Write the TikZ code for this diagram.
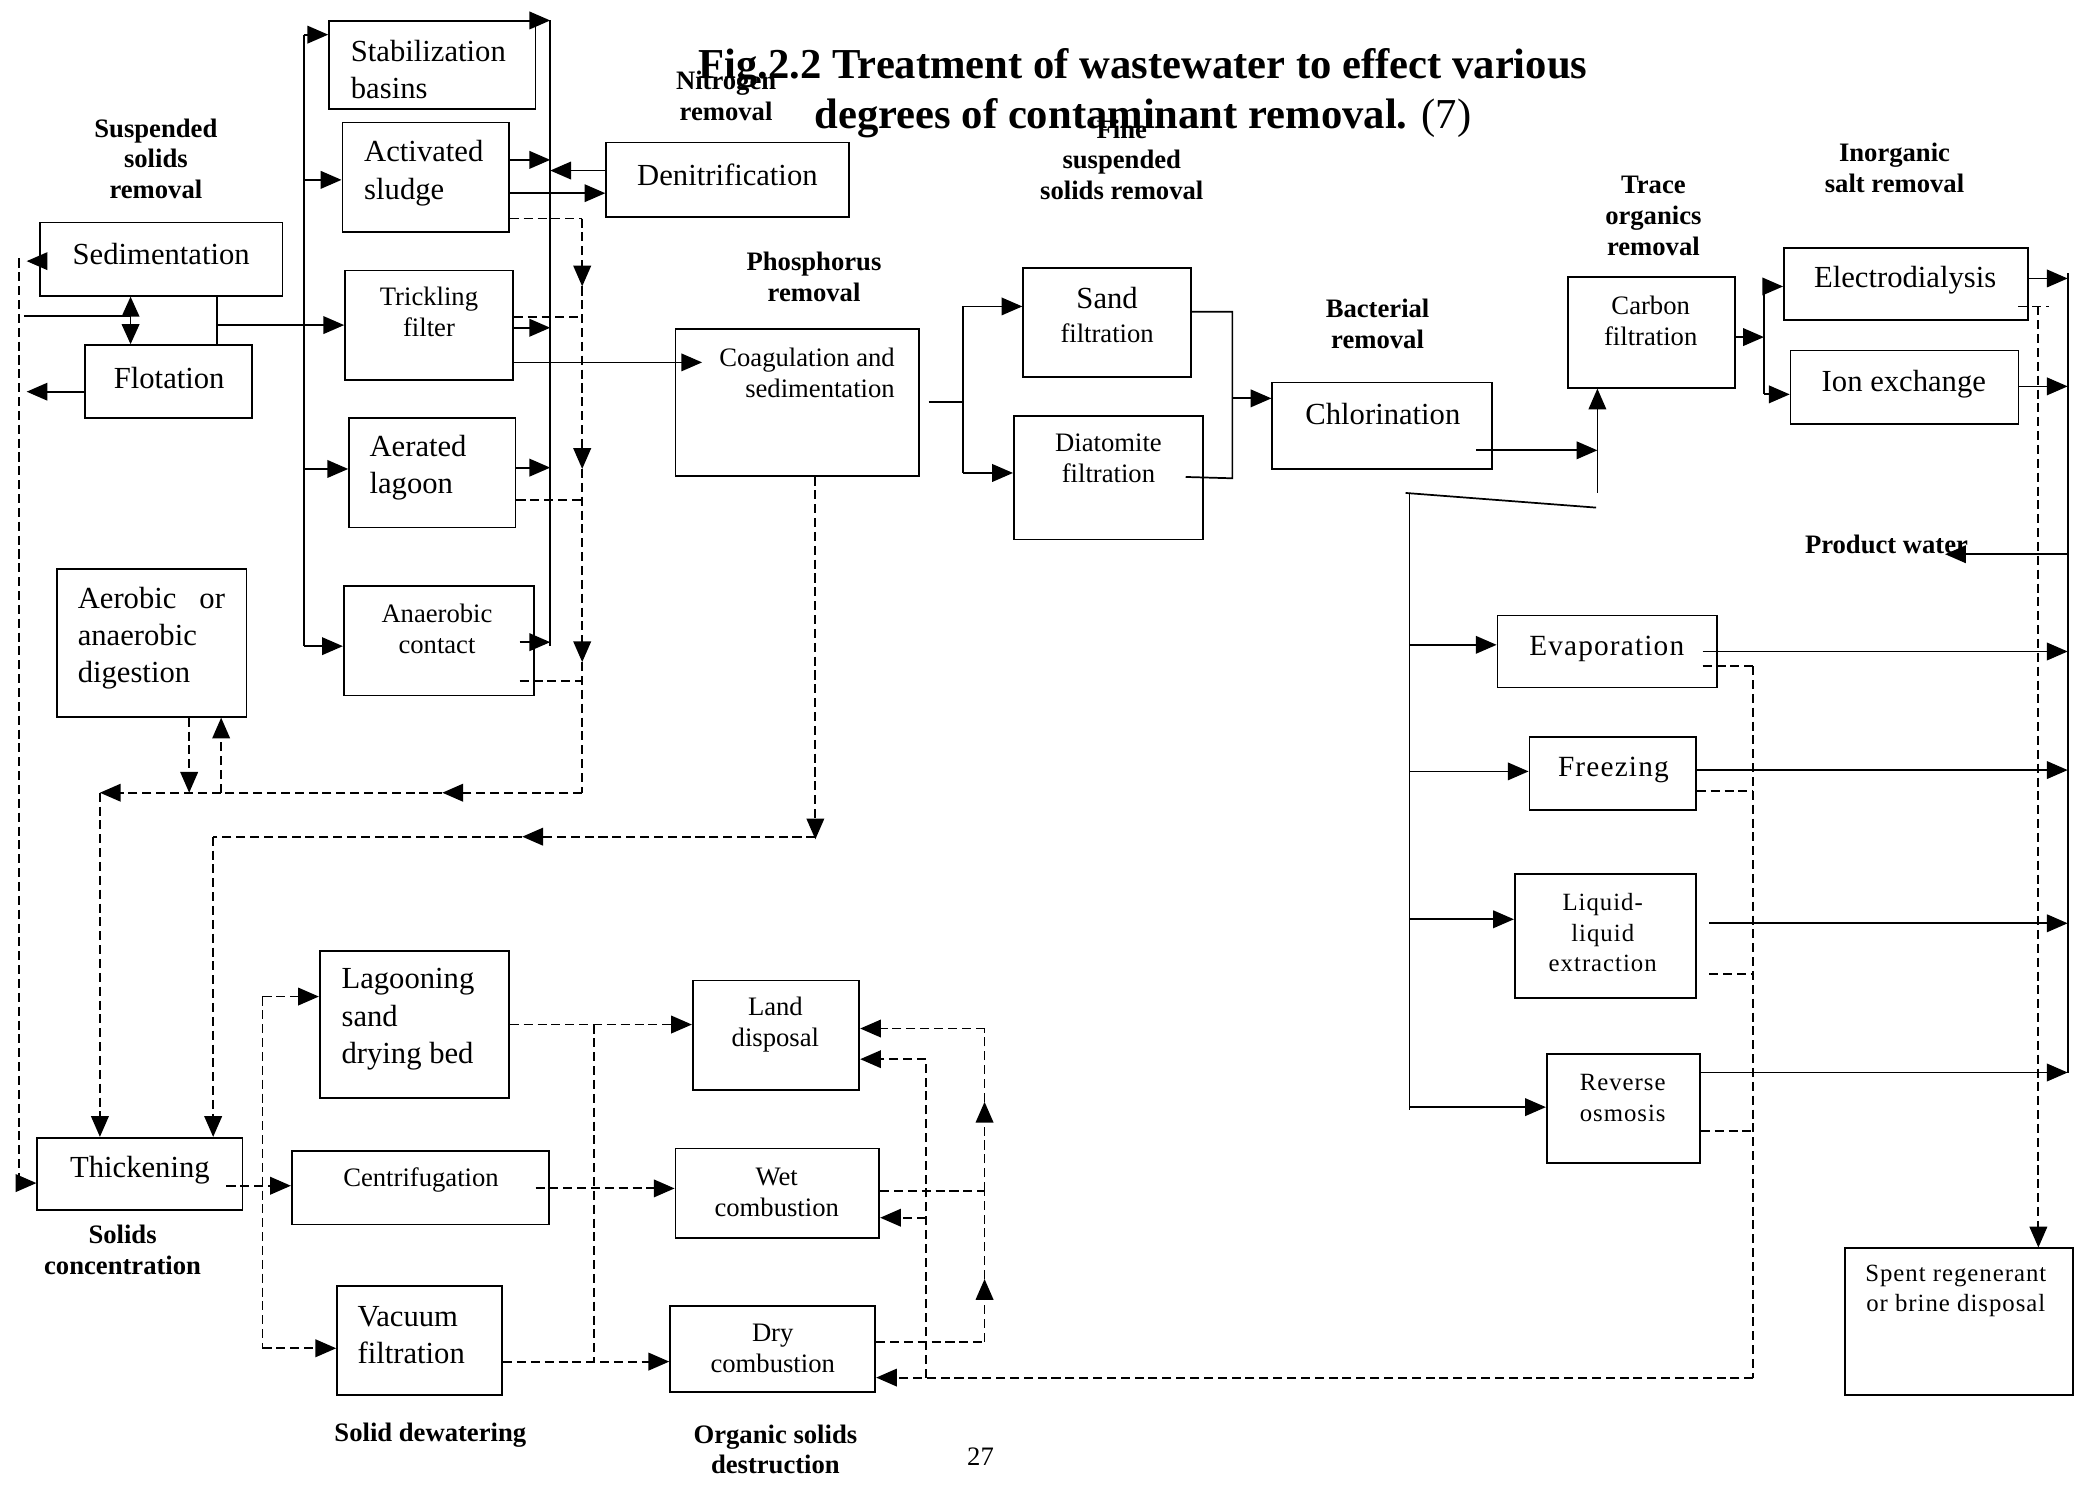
\documentclass[tikz,border=0pt]{standalone}
\usepackage{fontspec}
\setmainfont{Liberation Serif}
\newfontfamily\wsf[LetterSpace=4]{Liberation Serif}
\usetikzlibrary{arrows.meta,fit}
\begin{document}
\begin{tikzpicture}[x=0.5pt,y=-0.5pt,
  box/.style={draw,line width=0.65pt,inner sep=0pt},
  solid line/.style={line width=0.65pt},
  flow/.style={line width=0.65pt,-{Triangle[length=7.8pt,width=6.6pt]}},
  dline/.style={line width=0.7pt,dash pattern=on 3.4pt off 1.8pt},
  dflow/.style={dline,-{Triangle[length=7.8pt,width=6.6pt]}},
  dbl/.style={line width=0.65pt,{Triangle[length=7.5pt,width=6.6pt]}-{Triangle[length=7.5pt,width=6.6pt]}},
  bigt/.style={font=\fontsize{11.5}{14}\selectfont,inner sep=0pt,align=center},
  bigl/.style={font=\fontsize{11.5}{14}\selectfont,inner sep=0pt,align=left,anchor=west},
  smt/.style={font=\fontsize{10}{11.6}\selectfont,inner sep=0pt,align=center},
  wbig/.style={font=\wsf\fontsize{11}{13}\selectfont,inner sep=0pt,align=center},
  wsm/.style={font=\wsf\fontsize{9.3}{11.5}\selectfont,inner sep=0pt,align=center},
  lbl/.style={font=\bfseries\fontsize{10}{11.5}\selectfont,inner sep=0pt,align=center},
  ttl/.style={font=\bfseries\fontsize{16}{18.5}\selectfont,inner sep=0pt,align=center}]
\useasboundingbox (0,0) rectangle (1568,1115);

% ---------- title ----------
\node[ttl] (title) at (858,70) {Fig.2.2 Treatment of wastewater to effect various\\degrees of contaminant removal. {\mdseries (7)}};

% ---------- process boxes ----------
\node[box,fit={(247,16) (402,82)}] (stab) {};
\node[box,fit={(257,92) (382,174)}] (act) {};
\node[box,fit={(455,107) (637,163)}] (denit) {};
\node[box,fit={(30,167) (212,222)}] (sed) {};
\node[box,fit={(64,259) (189,314)}] (flot) {};
\node[box,fit={(259,203) (385,285)}] (trick) {};
\node[box,fit={(262,314) (387,396)}] (aer) {};
\node[box,fit={(258,440) (401,522)}] (anae) {};
\node[box,fit={(43,427) (185,538)}] (dig) {};
\node[box,fit={(507,247) (690,357)}] (coag) {};
\node[box,fit={(768,201) (894,283)}] (sand) {};
\node[box,fit={(761,312) (903,405)}] (diat) {};
\node[box,fit={(955,287) (1120,352)}] (chlor) {};
\node[box,fit={(1177,208) (1302,291)}] (carb) {};
\node[box,fit={(1339,186) (1522,240)}] (elec) {};
\node[box,fit={(1344,263) (1515,318)}] (ion) {};
\node[box,fit={(1124,462) (1289,516)}] (evap) {};
\node[box,fit={(1148,553) (1273,608)}] (frz) {};
\node[box,fit={(1137,656) (1273,749)}] (lle) {};
\node[box,fit={(1161,791) (1276,873)}] (ro) {};
\node[box,fit={(1385,937) (1556,1047)}] (spent) {};
\node[box,fit={(28,854) (182,908)}] (thick) {};
\node[box,fit={(240,714) (382,824)}] (lagb) {};
\node[box,fit={(219,864) (412,919)}] (cent) {};
\node[box,fit={(253,965) (377,1047)}] (vac) {};
\node[box,fit={(520,736) (645,818)}] (land) {};
\node[box,fit={(507,862) (660,929)}] (wet) {};
\node[box,fit={(503,980) (657,1045)}] (dry) {};

% ---------- box texts ----------
\node[bigl] (stab-t) at (263,52) {Stabilization\\basins};
\node[bigl] (act-t) at (273,130) {Activated\\sludge};
\node[bigt] (denit-t) at (546,131) {Denitrification};
\node[bigt] (sed-t) at (121,191) {Sedimentation};
\node[bigt] (flot-t) at (127,284) {Flotation};
\node[smt] (trick-t) at (322,234) {Trickling\\filter};
\node[bigl] (aer-t) at (277,351) {Aerated\\lagoon};
\node[smt] (anae-t) at (328,472) {Anaerobic\\contact};
\node[bigl] (dig-t) at (58,479) {Aerobic\hspace{0.75em}or\\anaerobic\\digestion};
\node[smt,align=right,anchor=east] (coag-t) at (672,280) {Coagulation and\\sedimentation};
\node[bigt] (sand-t) at (831,224) {Sand};
\node[smt] (sand-t2) at (831,250) {filtration};
\node[smt] (diat-t) at (832,344) {Diatomite\\filtration};
\node[bigt] (chlor-t) at (1038,311) {Chlorination};
\node[smt] (carb-t) at (1239,241) {Carbon\\filtration};
\node[bigt] (elec-t) at (1430,210) {Electrodialysis};
\node[bigt] (ion-t) at (1429,288) {Ion exchange};
\node[wbig] (evap-t) at (1206,487) {Evaporation};
\node[wbig] (frz-t) at (1211,578) {Freezing};
\node[wsm] (lle-t) at (1203,700) {Liquid-\\liquid\\extraction};
\node[wsm] (ro-t) at (1218,824) {Reverse\\osmosis};
\node[wsm] (spent-t) at (1468,969) {Spent regenerant\\or brine disposal};
\node[bigt] (thick-t) at (105,878) {Thickening};
\node[bigl] (lagb-t) at (256,765) {Lagooning\\sand\\drying bed};
\node[smt] (cent-t) at (316,886) {Centrifugation};
\node[bigl] (vac-t) at (268,1002) {Vacuum\\filtration};
\node[smt] (land-t) at (582,769) {Land\\disposal};
\node[smt] (wet-t) at (583,895) {Wet\\combustion};
\node[smt] (dry-t) at (580,1012) {Dry\\combustion};

% ---------- stage labels ----------
\node[lbl] (l-ss) at (117,119) {Suspended\\solids\\removal};
\node[lbl] (l-n) at (545,72) {Nitrogen\\removal};
\node[lbl] (l-fine) at (842,120) {Fine\\suspended\\solids removal};
\node[lbl] (l-p) at (611,208) {Phosphorus\\removal};
\node[lbl] (l-bac) at (1034,243) {Bacterial\\removal};
\node[lbl] (l-tr) at (1241,162) {Trace\\organics\\removal};
\node[lbl] (l-in) at (1422,126) {Inorganic\\salt removal};
\node[lbl] (l-pw) at (1416,409) {Product water};
\node[lbl] (l-sc) at (92,938) {Solids\\concentration};
\node[lbl] (l-sd) at (323,1077) {Solid dewatering};
\node[lbl] (l-os) at (582,1088) {Organic solids\\destruction};
\node[smt] (page) at (736,1093) {27};

% ---------- bus lines and junctions ----------
\coordinate (busL) at (228,0);
\coordinate (busR) at (413,0);
\coordinate (sl) at (437,0);
\coordinate (fbus) at (723,0);
\coordinate (cbus) at (925,0);
\coordinate (up) at (1199,0);
\coordinate (dbus) at (1058,0);
\coordinate (ibus) at (1324,0);
\coordinate (pbus) at (1552,0);
\coordinate (brine) at (1530,0);
\coordinate (waste) at (1316,0);
\coordinate (ashL) at (695,0);
\coordinate (ashR) at (739,0);
\coordinate (dew) at (197,0);
\coordinate (dsp) at (446,0);
\coordinate (ret) at (14,0);
\coordinate (inflow) at (18,237);
\coordinate (sfjoin) at (98,237);

% ---------- primary treatment ----------
\draw[solid line] (inflow) -- (sfjoin);
\draw[dbl] (sed.south -| sfjoin) -- (flot.north -| sfjoin);
\draw[solid line] (sed.south -| 163,0) -- (flot.north -| 163,0);
\draw[flow] (163,244) -- (trick.west |- 0,244);
\draw[flow] (sed.west |- 0,196) -- (20,196);
\draw[flow] (flot.west |- 0,294) -- (20,294);

% ---------- secondary treatment ----------
\draw[solid line] (busL |- 0,26) -- (busL |- 0,485);
\foreach \y/\n in {26/stab,135/act,352/aer,485/anae}
  \draw[flow] (busL |- 0,\y) -- (\n.west |- 0,\y);
\draw[solid line] (busR |- stab.north) -- (busR |- 0,485);
\draw[flow] (stab.north east) -- (busR |- stab.north);
\draw[flow] (act.east |- 0,120) -- (busR |- 0,120);
\draw[flow] (trick.east |- 0,246) -- (busR |- 0,246);
\draw[flow] (aer.east |- 0,351) -- (busR |- 0,351);
\draw[flow] (390,482) -- (busR |- 0,482);
\draw[flow] (denit.west |- 0,128) -- (busR |- 0,128);
\draw[flow] (act.east |- 0,145) -- (denit.west |- 0,145);
\draw[flow] (trick.east |- 0,272) -- (527,272);

% ---------- tertiary treatment ----------
\draw[solid line] (697,302) -- (fbus |- 0,302);
\draw[solid line] (fbus |- 0,230) -- (fbus |- 0,355);
\draw[flow] (fbus |- 0,230) -- (sand.west |- 0,230);
\draw[flow] (fbus |- 0,355) -- (diat.west |- 0,355);
\draw[solid line] (sand.east |- 0,234) -- (cbus |- 0,234) -- (cbus |- 0,359) -- (890,358);
\draw[flow] (cbus |- 0,299) -- (chlor.west |- 0,299);
\draw[flow] (1108,338) -- (up |- 0,338);
\draw[flow] (up |- 0,370) -- (up |- carb.south);
\draw[solid line] (1055,370) -- (1198,381);
\draw[solid line] (dbus |- 0,370) -- (dbus |- 0,833);
\foreach \y/\n in {484/evap,579/frz,690/lle,831/ro}
  \draw[flow] (dbus |- 0,\y) -- (\n.west |- 0,\y);
\draw[flow] (carb.east |- 0,253) -- (ibus |- 0,253);
\draw[solid line] (ibus |- 0,215) -- (ibus |- 0,296);
\draw[flow] (ibus |- 0,215) -- (elec.west |- 0,215);
\draw[flow] (ibus |- 0,296) -- (ion.west |- 0,296);
\draw[flow] (elec.east |- 0,209) -- (pbus |- 0,209);
\draw[flow] (ion.east |- 0,290) -- (pbus |- 0,290);
\draw[solid line] (pbus |- 0,205) -- (pbus |- 0,805);
\draw[flow] (pbus |- 0,416) -- (1460,416) coordinate (product);
\draw[flow] (1278,489) -- (pbus |- 0,489);
\draw[flow] (frz.east |- 0,578) -- (pbus |- 0,578);
\draw[flow] (1283,693) -- (pbus |- 0,693);
\draw[flow] (ro.east |- 0,805) -- (pbus |- 0,805);

% ---------- brine and concentrates ----------
\draw[dline] (1515,230) -- (1538,230);
\draw[dflow] (brine |- 0,230) -- (brine |- spent.north);
\draw[dline] (1278,500) -- (waste |- 0,500);
\draw[dline] (frz.east |- 0,594) -- (waste |- 0,594);
\draw[dline] (1283,731) -- (waste |- 0,731);
\draw[dline] (ro.east |- 0,849) -- (waste |- 0,849);
\draw[dline] (waste |- 0,500) -- (waste |- 0,1034);
\draw[dflow] (waste |- 0,1034) -- (dry.east |- 0,1034);
\draw[dline] (ashL |- 0,1034) -- (ashL |- 0,795);
\draw[dflow] (ashL |- 0,795) -- (land.east |- 0,795);
\draw[dflow] (ashL |- 0,914) -- (wet.east |- 0,914);

% ---------- ash return ----------
\draw[dline] (wet.east |- 0,894) -- (ashR |- 0,894);
\draw[dline] (dry.east |- 0,1007) -- (ashR |- 0,1007);
\draw[dflow] (ashR |- 0,1007) -- (ashR |- 0,960);
\draw[dline] (ashR |- 0,960) -- (ashR |- 0,894);
\draw[dflow] (ashR |- 0,894) -- (ashR |- 0,827);
\draw[dline] (ashR |- 0,827) -- (ashR |- 0,772);
\draw[dflow] (ashR |- 0,772) -- (land.east |- 0,772);

% ---------- sludge handling ----------
\draw[dline] (act.east |- 0,164) -- (sl |- 0,164);
\draw[dflow] (sl |- 0,164) -- (sl |- 0,215);
\draw[dflow] (sl |- 0,215) -- (sl |- 0,352);
\draw[dflow] (sl |- 0,352) -- (sl |- 0,497);
\draw[dline] (sl |- 0,497) -- (sl |- 0,595);
\draw[dline] (trick.east |- 0,238) -- (sl |- 0,238);
\draw[dline] (aer.east |- 0,375) -- (sl |- 0,375);
\draw[dline] (390,511) -- (sl |- 0,511);
\draw[dflow] (sl |- 0,595) -- (332,595);
\draw[dflow] (332,595) -- (75,595);
\draw[dflow] (75,595) -- (thick.north -| 75,0);
\draw[dflow] (dig.south -| 142,0) -- (142,595);
\draw[dflow] (166,595) -- (dig.south -| 166,0);
\draw[dflow] (coag.south -| 612,0) -- (612,630);
\draw[dflow] (612,628) -- (392,628);
\draw[dline] (392,628) -- (160,628);
\draw[dflow] (160,628) -- (thick.north -| 160,0);
\draw[dline] (ret |- 0,194) -- (ret |- 0,888);
\draw[dflow] (ret |- 0,888) -- (thick.west |- 0,888);

% ---------- solids dewatering ----------
\draw[dflow] (170,890) -- (cent.west |- 0,890);
\draw[dline] (dew |- 0,748) -- (dew |- 0,1012);
\draw[dflow] (dew |- 0,748) -- (lagb.west |- 0,748);
\draw[dflow] (dew |- 0,1012) -- (vac.west |- 0,1012);
\draw[dflow] (lagb.east |- 0,769) -- (land.west |- 0,769);
\draw[dflow] (402,892) -- (wet.west |- 0,892);
\draw[dflow] (vac.east |- 0,1022) -- (dry.west |- 0,1022);
\draw[dline] (dsp |- 0,769) -- (dsp |- 0,1022);
\end{tikzpicture}
\end{document}
